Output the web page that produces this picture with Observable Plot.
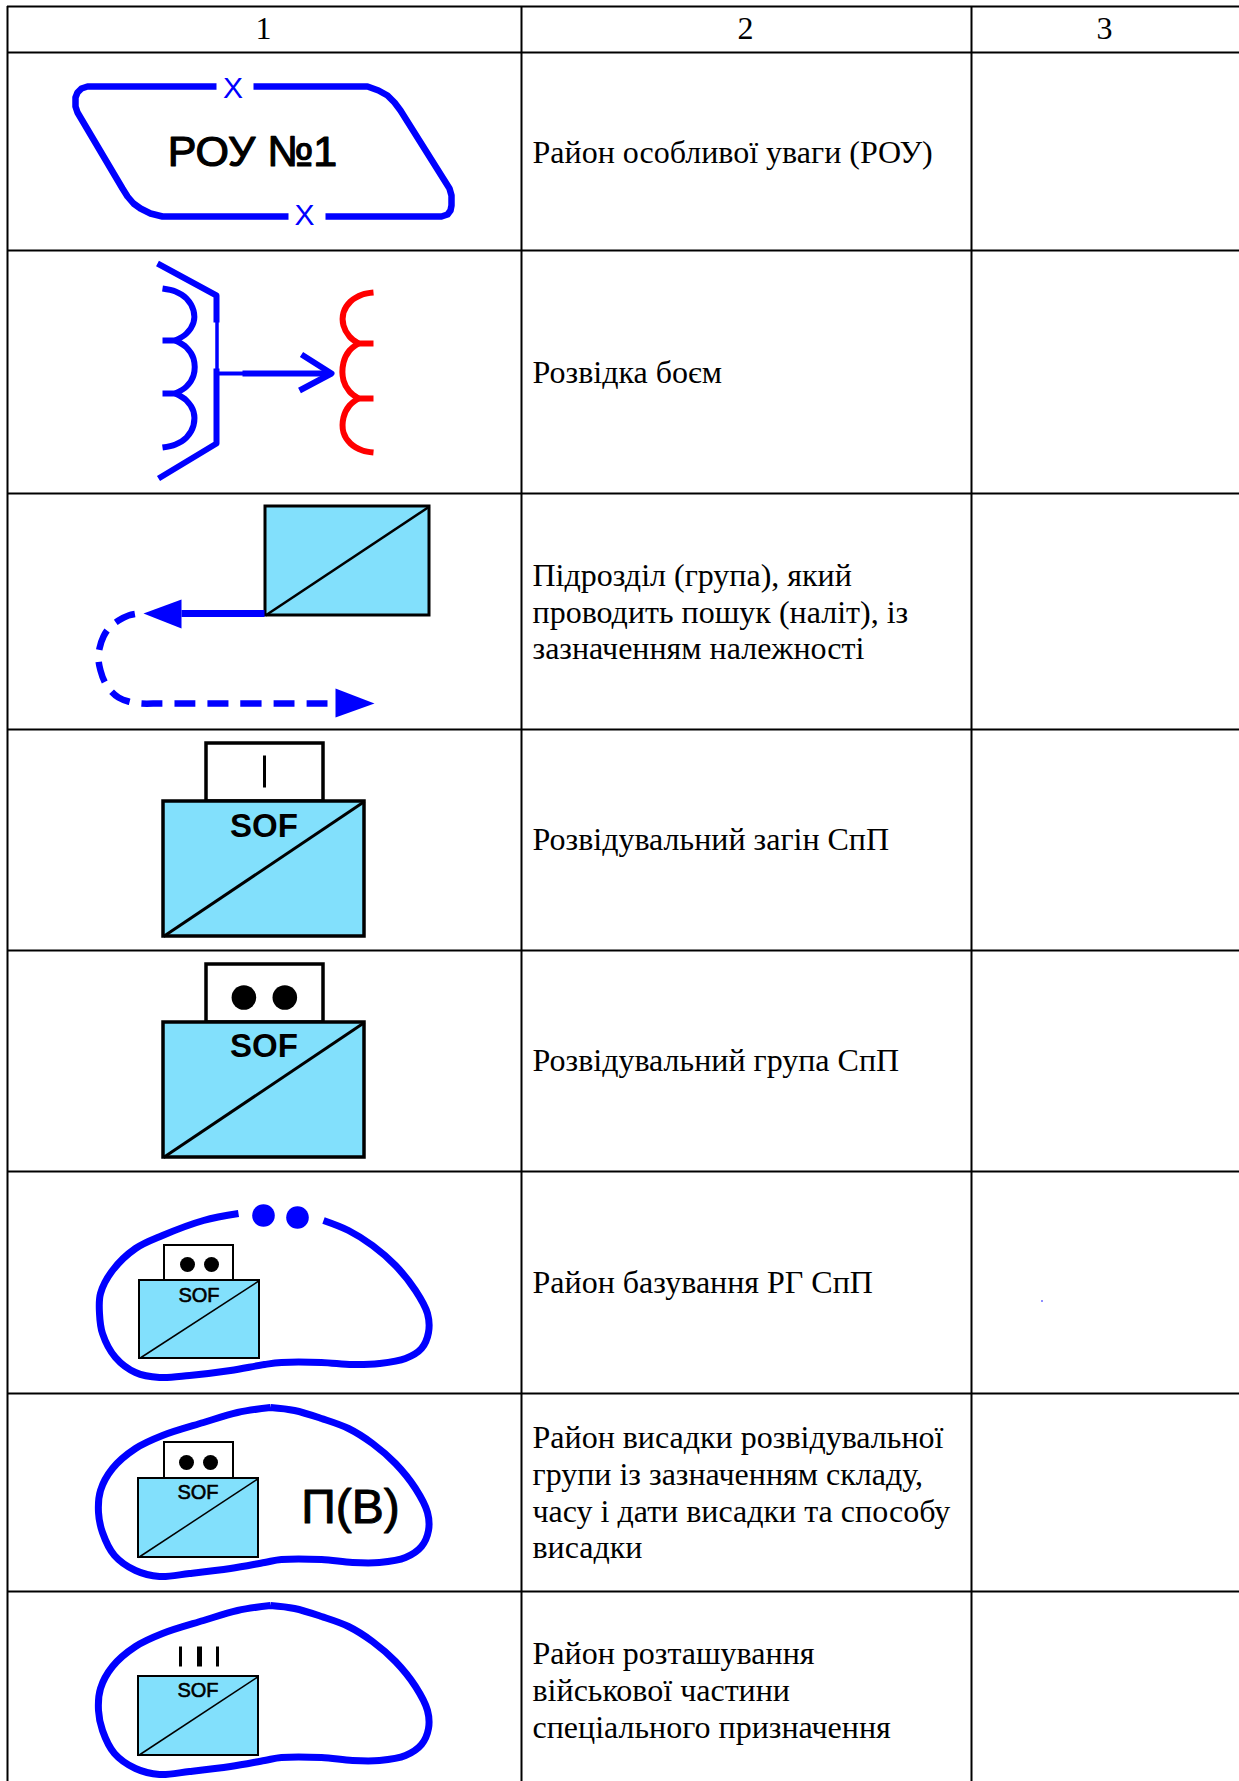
<!DOCTYPE html>
<html>
<head>
<meta charset="utf-8">
<script src="https://cdn.jsdelivr.net/npm/d3@7"></script>
<script src="https://cdn.jsdelivr.net/npm/@observablehq/plot@0.6"></script>
<style>html,body{margin:0;padding:0;background:#fff}svg{display:block}</style>
</head>
<body>
<div id="chart"></div>
<script>
// ---- table grid (chart units = reference pixels)
const rowLines = [6, 52, 250, 493, 729, 950, 1171, 1393, 1591];
const colLines = [7, 521, 971];
const headers = [["1", 263, 38], ["2", 745, 38], ["3", 1104, 38]];
const descriptions = [
  ["Район особливої уваги (РОУ)", 162],
  ["Розвідка боєм", 382],
  ["Підрозділ (група), який", 585],
  ["проводить пошук (наліт), із", 622],
  ["зазначенням належності", 658],
  ["Розвідувальний загін СпП", 849],
  ["Розвідувальний група СпП", 1070],
  ["Район базування РГ СпП", 1292],
  ["Район висадки розвідувальної", 1447],
  ["групи із зазначенням складу,", 1484],
  ["часу і дати висадки та способу", 1521],
  ["висадки", 1557],
  ["Район розташування", 1663],
  ["військової частини", 1700],
  ["спеціального призначення", 1737]
];

// ---- symbol 1: area of special attention
const areaLeft = [[216,86],[87,86],[81,88],[77,92],[75,97],[75,106],[77,112],[122,188],[127,196],[133,203],[140,208],[150,213],[162,216],[288,216]];
const areaRight = [[325,216],[441,216],[447,214],[450,210],[451,205],[451,195],[449,188],[400,110],[394,102],[387,95],[378,90],[367,86],[253,86]];
const areaMarks = [["X",232.5,97],["X",304,224]];
const areaLabel = [["РОУ №1",252,165]];

// ---- symbol 2: reconnaissance in force
const chevronTop = [[157,263],[216,295],[216,322]];
const chevronMid = [[216.5,321],[216.5,369]];
const chevronBottom = [[216,368],[216,443],[158,478]];
const blueArcs = [
  [[162,288],[175,291],[186,298],[193,310],[193,322],[186,333],[175,340]],
  [[162,340],[177,340]],
  [[175,340],[186,347],[193,358],[193,375],[186,386],[175,393]],
  [[162,393],[177,393]],
  [[175,393],[186,400],[193,411],[193,425],[186,437],[175,444],[162,447]]
];
const redArcs = [
  [[373,292],[362,294],[350,301],[343,312],[343,325],[349,336],[358,343]],
  [[356,343],[373,343]],
  [[358,343],[349,350],[343,362],[343,380],[349,391],[358,398]],
  [[356,398],[373,398]],
  [[358,398],[349,405],[343,417],[343,432],[350,443],[362,450],[373,452]]
];
const probeThin = [[216,373],[244,373]];
const probeShaft = [[242,373],[330,373]];
const probeHead = [[301,354],[331,373],[299,390]];

// ---- symbol 3: raiding group with route
const routeShaft = [[264,613],[181,613]];
const routeDashed = [[327,703],[280,703],[230,703],[190,703],[160,703],[140,703],[128,701],[118,697],[110,690],[104,681],[100,670],[98,659],[99,648],[103,636],[109,627],[118,620],[128,615],[138,613]];
const headLeft = [[143,613],[181,599],[181,628]];
const headRight = [[374,703],[335,688],[335,717]];

// ---- unit frames [x1,y1,x2,y2]
const bigUnits = [[265,506,429,615]];
const sofLarge = [[163,801,364,936],[163,1022,364,1157]];
const sofSmall = [[139,1280,259,1358],[138,1478,258,1557],[138,1676,258,1755]];
const echelonLarge = [[206,743,323,801],[206,964,323,1022]];
const echelonSmall = [[164,1245,233,1280],[164,1442,233,1478]];
const sofLabelsLarge = [[263.5,836],[263.5,1056]];
const sofLabelsSmall = [[198.5,1301],[197.5,1498],[197.5,1696]];
const dotsLarge = [[243.4,997],[284.3,997]];
const dotsSmall = [[187,1264],[211,1264],[186,1462],[210,1462]];
const dotsBlue = [[263,1215],[297,1217]];
const tinyDot = [[1041.5,1300.5]];
const singleBar = [[264,755,264,787]];
const tripleThin = [[180,1646,180,1666],[217,1646,217,1666]];
const tripleThick = [[199,1646,199,1666]];

// ---- area outlines
const baseOutline = [[238,1213],[203,1220],[162,1235],[135,1248],[112,1270],[100,1293],[99,1313],[102,1333],[115,1357],[135,1372],[159,1377],[189,1375],[230,1370],[264,1364],[281,1362],[321,1362],[352,1364],[379,1363],[405,1358],[421,1348],[428,1332],[427,1313],[415,1290],[395,1265],[372,1245],[348,1230],[323,1220]];
const landingOutline = [[270,1407],[237,1412],[203,1422],[162,1435],[135,1448],[112,1468],[100,1490],[98,1512],[102,1532],[114,1555],[135,1570],[159,1576],[189,1573],[230,1568],[264,1562],[281,1559],[321,1559],[352,1562],[379,1562],[405,1557],[421,1546],[428,1530],[427,1512],[415,1488],[395,1463],[372,1443],[348,1428],[321,1418],[294,1410],[270,1407]];
const unitOutline = [[270,1605],[237,1610],[203,1620],[162,1633],[135,1646],[112,1666],[100,1688],[98,1710],[102,1730],[114,1753],[135,1768],[159,1774],[189,1771],[230,1766],[264,1760],[281,1757],[321,1757],[352,1760],[379,1760],[405,1755],[421,1744],[428,1728],[427,1710],[415,1686],[395,1661],[372,1641],[348,1626],[321,1616],[294,1608],[270,1605]];
const landingLabel = [["П(В)",350,1522]];

const BLUE = "#0000ff", RED = "#ff0000", SKY = "#82e0fc", BLACK = "#000";
const SERIF = "'Liberation Serif', serif", SANS = "'Liberation Sans', sans-serif";
const X = d => d[0], Y = d => d[1];

const stroked = (data, stroke, strokeWidth, extra = {}) =>
  Plot.line(data, {x: X, y: Y, stroke, strokeWidth, strokeLinejoin: "round", strokeLinecap: "butt", ...extra});
const frame = (data, fill, strokeWidth) =>
  Plot.rect(data, {x1: d => d[0], y1: d => d[1], x2: d => d[2], y2: d => d[3], fill, stroke: BLACK, strokeWidth});
const diagonal = (data, strokeWidth) =>
  Plot.link(data, {x1: d => d[0], y1: d => d[3], x2: d => d[2], y2: d => d[1], stroke: BLACK, strokeWidth});
const bar = (data, strokeWidth) =>
  Plot.link(data, {x1: d => d[0], y1: d => d[1], x2: d => d[2], y2: d => d[3], stroke: BLACK, strokeWidth});
const label = (data, text, x, y, fontSize, fontFamily, extra = {}) =>
  Plot.text(data, {text, x, y, fontSize, fontFamily, lineAnchor: "bottom", fill: BLACK, ...extra});

const chart = Plot.plot({
  width: 1239,
  height: 1781,
  margin: 0,
  style: {background: "#fff"},
  x: {domain: [0, 1239], range: [0, 1239], axis: null},
  y: {domain: [0, 1781], range: [0, 1781], axis: null},
  marks: [
    // grid
    Plot.ruleY(rowLines, {x1: colLines[0], x2: 1239, stroke: BLACK, strokeWidth: 2}),
    Plot.ruleX(colLines, {y1: rowLines[0], y2: 1781, stroke: BLACK, strokeWidth: 2}),
    label(headers, d => d[0], d => d[1], d => d[2], 32, SERIF),
    label(descriptions, d => d[0], () => 532, d => d[1], 32, SERIF, {textAnchor: "start"}),

    // 1
    stroked(areaLeft, BLUE, 6.5),
    stroked(areaRight, BLUE, 6.5),
    label(areaMarks, d => d[0], d => d[1], d => d[2], 30, SANS, {fill: BLUE}),
    label(areaLabel, d => d[0], d => d[1], d => d[2], 43, SANS, {stroke: BLACK, strokeWidth: 1.2}),

    // 2
    stroked(chevronTop, BLUE, 6),
    stroked(chevronMid, BLUE, 3.5),
    stroked(chevronBottom, BLUE, 6),
    ...blueArcs.map(a => stroked(a, BLUE, 6, {curve: "catmull-rom"})),
    ...redArcs.map(a => stroked(a, RED, 6, {curve: "catmull-rom"})),
    stroked(probeThin, BLUE, 4),
    stroked(probeShaft, BLUE, 6),
    stroked(probeHead, BLUE, 6),

    // 3
    frame(bigUnits, SKY, 3),
    diagonal(bigUnits, 2.5),
    stroked(routeShaft, BLUE, 7),
    stroked(routeDashed, BLUE, 6.5, {strokeDasharray: "21,12", curve: "catmull-rom"}),
    Plot.line(headLeft, {x: X, y: Y, fill: BLUE, stroke: "none"}),
    Plot.line(headRight, {x: X, y: Y, fill: BLUE, stroke: "none"}),

    // outlines
    stroked(baseOutline, BLUE, 7, {curve: "catmull-rom"}),
    stroked(landingOutline, BLUE, 7, {curve: "catmull-rom"}),
    stroked(unitOutline, BLUE, 7, {curve: "catmull-rom"}),

    // unit frames
    frame(echelonLarge, "#fff", 3.5),
    frame(echelonSmall, "#fff", 2),
    frame(sofLarge, SKY, 3.5),
    diagonal(sofLarge, 3),
    frame(sofSmall, SKY, 2),
    diagonal(sofSmall, 1.5),
    label(sofLabelsLarge, () => "SOF", X, Y, 33, SANS, {fontWeight: 700}),
    label(sofLabelsSmall, () => "SOF", X, Y, 20, SANS, {stroke: BLACK, strokeWidth: 0.6}),
    bar(singleBar, 3),
    bar(tripleThin, 3),
    bar(tripleThick, 5),
    Plot.dot(dotsLarge, {x: X, y: Y, r: 12.3, fill: BLACK}),
    Plot.dot(dotsSmall, {x: X, y: Y, r: 7.5, fill: BLACK}),
    Plot.dot(dotsBlue, {x: X, y: Y, r: 11.3, fill: BLUE}),
    Plot.dot(tinyDot, {x: X, y: Y, r: 0.8, fill: BLUE}),
    label(landingLabel, d => d[0], d => d[1], d => d[2], 48, SANS, {stroke: BLACK, strokeWidth: 1})
  ]
});
document.getElementById("chart").appendChild(chart);
</script>
</body>
</html>
